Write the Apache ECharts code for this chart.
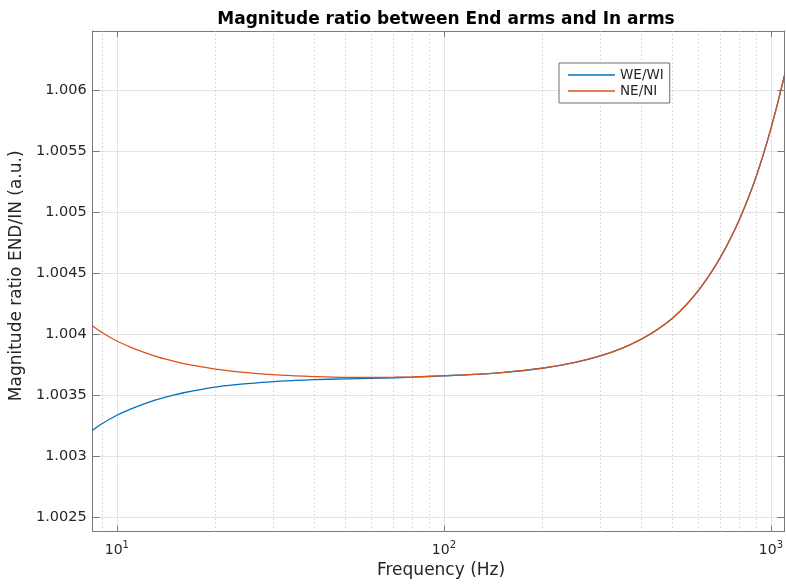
<!DOCTYPE html>
<html><head><meta charset="utf-8">
<script src="https://cdn.jsdelivr.net/npm/echarts@6/dist/echarts.min.js"></script>
<style>html,body{margin:0;padding:0;background:#fff}#c{width:786px;height:584px}</style>
</head><body><div id="c"></div>
<script>
const titleText = 'Magnitude ratio between End arms and In arms';
const xName = 'Frequency (Hz)';
const yName = 'Magnitude ratio END/IN (a.u.)';
const seriesNames = ['WE/WI', 'NE/NI'];
const freqHz = [8.43, 9, 10, 11, 12, 13, 14, 15, 16, 18, 20, 22, 25, 30, 35, 40, 50, 60, 70, 80, 100, 120, 150, 200, 250, 300, 350, 400, 450, 500, 550, 600, 650, 700, 750, 800, 850, 900, 950, 1000, 1050, 1100];
const weWi = [1.003212, 1.003265, 1.003335, 1.003385, 1.003425, 1.003457, 1.003482, 1.003503, 1.003520, 1.003546, 1.003566, 1.003580, 1.003595, 1.003612, 1.003621, 1.003627, 1.003634, 1.003639, 1.003643, 1.003648, 1.003659, 1.003668, 1.003685, 1.003721, 1.003767, 1.003821, 1.003884, 1.003957, 1.004039, 1.004131, 1.004239, 1.004359, 1.004489, 1.004629, 1.004779, 1.004939, 1.005109, 1.005289, 1.005484, 1.005689, 1.005904, 1.006124];
const neNi = [1.004068, 1.004015, 1.003945, 1.003895, 1.003855, 1.003823, 1.003798, 1.003777, 1.003760, 1.003734, 1.003714, 1.003700, 1.003685, 1.003668, 1.003659, 1.003653, 1.003646, 1.003645, 1.003647, 1.003650, 1.003660, 1.003669, 1.003686, 1.003722, 1.003768, 1.003822, 1.003885, 1.003958, 1.004040, 1.004132, 1.004240, 1.004360, 1.004490, 1.004630, 1.004780, 1.004940, 1.005110, 1.005290, 1.005485, 1.005690, 1.005905, 1.006125];
const minorGridHz = [9, 20, 30, 40, 50, 60, 70, 80, 90, 200, 300, 400, 500, 600, 700, 800, 900];
const xRange = [8.43, 1100];
const yRange = [1.00238, 1.00649];
const yStep = 0.0005;
const colors = ['#0072BD', '#D95319'];

const FONT = 'DejaVu Sans';
const axisCol = '#7a7a7a';
const txtCol = '#262626';
const gridCol = '#e3e3e3';

function pairs(ys) { return freqHz.map((f, i) => [f, ys[i]]); }
function xFmt(v) {
  const e = Math.log10(v), r = Math.round(e);
  return Math.abs(e - r) < 1e-6 ? '10{sup|' + r + '}' : '';
}
function yFmt(v) {
  const k = v / yStep;
  return Math.abs(k - Math.round(k)) < 1e-6 ? String(parseFloat(v.toFixed(4))) : '';
}

const chart = echarts.init(document.getElementById('c'), null, {renderer: 'canvas'});
chart.setOption({
  animation: false,
  backgroundColor: '#fff',
  title: {
    text: titleText, left: 441, top: 6, textAlign: 'center',
    textStyle: {fontFamily: FONT, fontSize: 17, fontWeight: 'bold', color: '#000'}
  },
  legend: {
    data: seriesNames, orient: 'vertical', left: 559, top: 63,
    icon: 'rect', itemWidth: 47, itemHeight: 1.5, itemGap: 2,
    padding: [5, 6, 5, 9],
    backgroundColor: '#fff', borderColor: '#6e6e6e', borderWidth: 1,
    textStyle: {fontFamily: FONT, fontSize: 13.5, color: txtCol, lineHeight: 14}
  },
  grid: {left: 92, right: 1, top: 31, bottom: 52, containLabel: false},
  xAxis: [{
    type: 'log', logBase: 10, min: xRange[0], max: xRange[1],
    name: xName, nameLocation: 'middle', nameGap: 28,
    nameTextStyle: {fontFamily: FONT, fontSize: 17, color: txtCol, padding: [0, 0, 0, 5]},
    axisLine: {lineStyle: {color: axisCol, width: 1}},
    axisTick: {inside: true, length: 6, lineStyle: {color: axisCol}},
    axisLabel: {
      formatter: xFmt, showMinLabel: false, showMaxLabel: false, margin: 9,
      fontFamily: FONT, fontSize: 14, color: txtCol,
      rich: {sup: {fontFamily: FONT, fontSize: 10, color: txtCol, padding: [0, 0, 9, 0]}}
    },
    splitLine: {show: true, lineStyle: {color: gridCol, width: 1}}
  }, {
    type: 'log', logBase: 10, min: xRange[0], max: xRange[1], position: 'top',
    axisLine: {lineStyle: {color: axisCol, width: 1}},
    axisTick: {inside: true, length: 6, lineStyle: {color: axisCol}},
    axisLabel: {show: false}, splitLine: {show: false}
  }],
  yAxis: [{
    type: 'value', min: yRange[0], max: yRange[1], minInterval: yStep, maxInterval: yStep,
    name: yName, nameLocation: 'middle', nameGap: 59,
    nameTextStyle: {fontFamily: FONT, fontSize: 17, color: txtCol, padding: [0, 0, 0, 11]},
    axisLine: {show: true, lineStyle: {color: axisCol, width: 1}},
    axisTick: {show: true, inside: true, length: 7, lineStyle: {color: axisCol}},
    axisLabel: {formatter: yFmt, showMinLabel: false, showMaxLabel: false, margin: 6,
      fontFamily: FONT, fontSize: 14.5, color: txtCol},
    splitLine: {show: true, lineStyle: {color: gridCol, width: 1}}
  }, {
    type: 'value', min: yRange[0], max: yRange[1], minInterval: yStep, maxInterval: yStep,
    position: 'right',
    axisLine: {show: true, lineStyle: {color: axisCol, width: 1}},
    axisTick: {show: true, inside: true, length: 7, lineStyle: {color: axisCol}},
    axisLabel: {show: false}, splitLine: {show: false}
  }],
  series: [{
    name: seriesNames[0], type: 'line', data: pairs(weWi), showSymbol: false, symbol: 'none',
    smooth: 0.3,
    color: colors[0], lineStyle: {color: colors[0], width: 1.3}, z: 3,
    markLine: {
      silent: true, symbol: ['none', 'none'], label: {show: false},
      lineStyle: {color: '#bdbdbd', width: 1, type: [1, 3]},
      data: minorGridHz.map(f => ({xAxis: f})), z: 1
    }
  }, {
    name: seriesNames[1], type: 'line', data: pairs(neNi), showSymbol: false, symbol: 'none',
    smooth: 0.3,
    color: colors[1], lineStyle: {color: colors[1], width: 1.3}, z: 4
  }]
});
</script>
</body></html>
